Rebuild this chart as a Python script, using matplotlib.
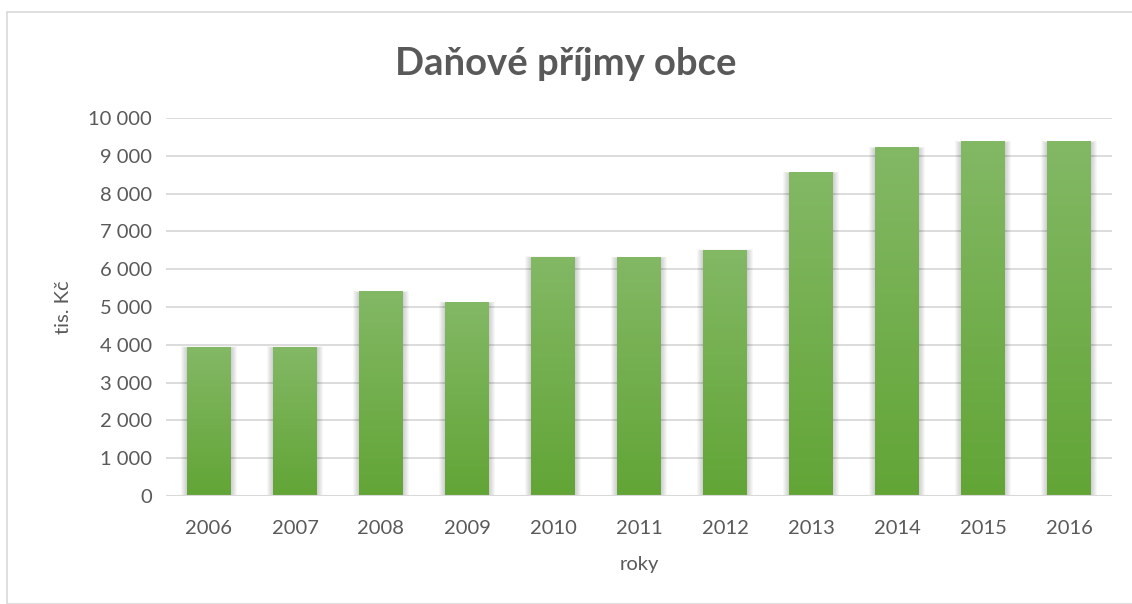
import numpy as np
import matplotlib.pyplot as plt
from matplotlib.patches import Rectangle
from matplotlib.colors import LinearSegmentedColormap

# data
years = ['2006', '2007', '2008', '2009', '2010', '2011', '2012', '2013', '2014', '2015', '2016']
values = [3940, 3940, 5400, 5120, 6320, 6310, 6500, 8560, 9210, 9370, 9370]
yticks = [0, 1000, 2000, 3000, 4000, 5000, 6000, 7000, 8000, 9000, 10000]

plt.rcParams['font.family'] = ['Lato', 'DejaVu Sans']
txt = '#595959'

fig = plt.figure(figsize=(11.32, 6.04), dpi=100)
# outer chart border
fig.patches.append(Rectangle((7 / 1132, 0), 1.2, (604 - 12) / 604, transform=fig.transFigure,
                             fill=False, edgecolor='#d9d9d9', linewidth=1.2))

ax = fig.add_axes([166 / 1132, 108 / 604, 946 / 1132, 378 / 604])
x = np.arange(len(years))
w = 0.51

cmap = LinearSegmentedColormap.from_list('g', ['#62a536', '#83b865'])
grad = np.linspace(0, 1, 256).reshape(-1, 1)

for xi, v in zip(x, values):
    # soft shadow, mostly on the sides
    for k in range(6):
        d = 0.011 * (k + 1)
        ax.add_patch(Rectangle((xi - w / 2 - d, -40), w + 2 * d, v + 40 - 30 + d * 800,
                               facecolor='black', edgecolor='none', alpha=0.03, zorder=2))
    ax.imshow(grad, extent=[xi - w / 2, xi + w / 2, 0, v], origin='lower', cmap=cmap,
              aspect='auto', zorder=3)

ax.set_xlim(-0.5, len(years) - 0.5)
ax.set_ylim(0, 10000)
ax.set_yticks(yticks)
ax.set_yticklabels([f'{t:,}'.replace(',', ' ') for t in yticks])
ax.set_xticks(x)
ax.set_xticklabels(years)
ax.grid(axis='y', color='#d9d9d9', linewidth=1.3, zorder=0)
ax.set_axisbelow(True)
for s in ax.spines.values():
    s.set_visible(False)
ax.axhline(0, color='#d9d9d9', linewidth=1.5, zorder=4)
ax.tick_params(length=0, labelsize=14.5, labelcolor=txt, pad=10)
ax.tick_params(axis='x', pad=17)

ax.set_ylabel('tis. Kč', fontsize=14.5, color=txt, labelpad=12)
ax.set_xlabel('roky', fontsize=14.5, color=txt, labelpad=14)
fig.text(0.5, (604 - 64) / 604, 'Daňové příjmy obce', ha='center', va='center',
         fontsize=27.5, fontweight='bold', color=txt)

fig.savefig('out.png', dpi=100)
